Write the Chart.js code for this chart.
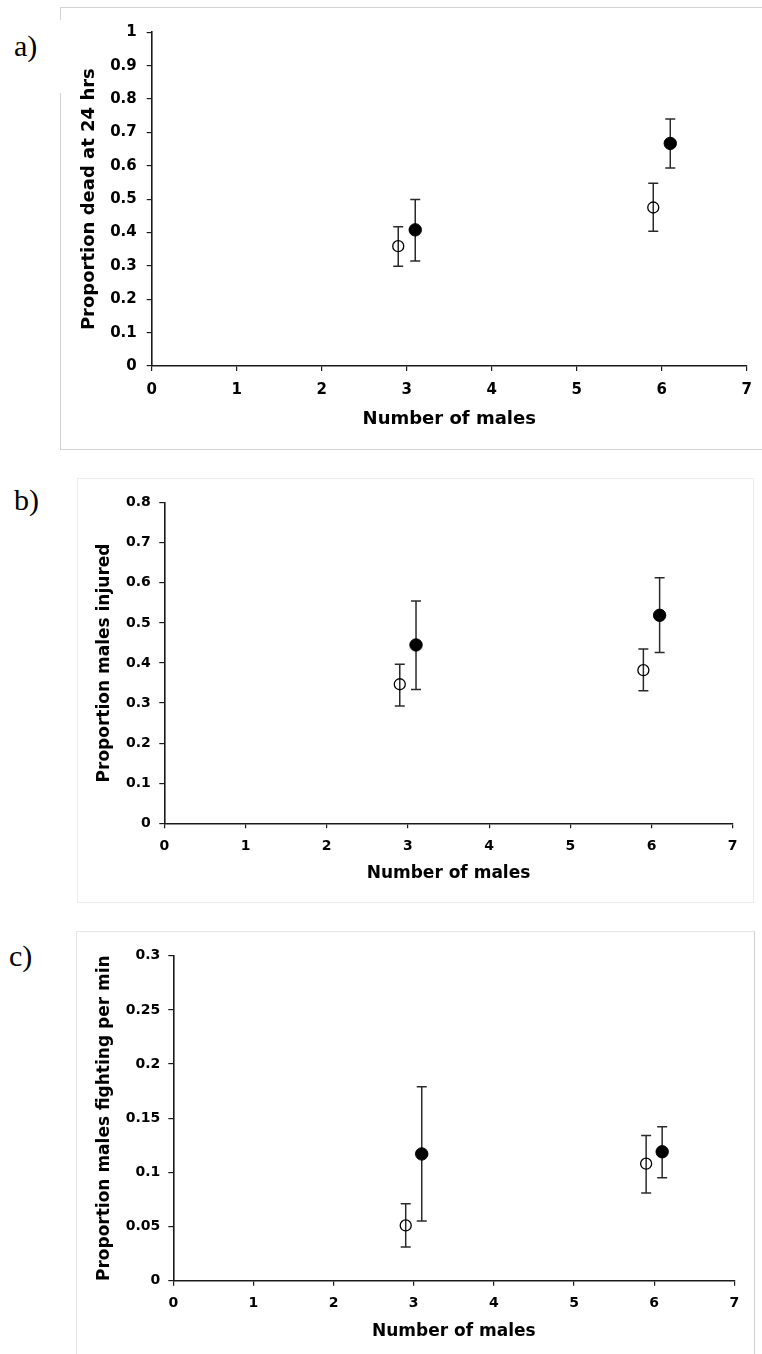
<!DOCTYPE html>
<html>
<head>
<meta charset="utf-8">
<script src="https://cdn.jsdelivr.net/npm/chart.js@4.4.0/dist/chart.umd.min.js"></script>
<style>
  html, body { margin: 0; padding: 0; background: #fff; }
  body { width: 762px; height: 1354px; position: relative; overflow: hidden; }
  .frame { position: absolute; box-sizing: border-box; }
  .lbl { position: absolute; font-family: "Liberation Serif", "Times New Roman", serif; font-size: 30px; line-height: 30px; color: #000; }
  canvas { position: absolute; left: 0; }
</style>
</head>
<body>

<div class="frame" style="left:60px; top:7px; width:760px; height:443px; border:1px solid #d2d2d2;"></div>
<div class="frame" style="left:77px; top:478px; width:677px; height:425px; border:1px solid #ececec;"></div>
<div class="frame" style="left:76px; top:931px; width:679px; height:500px; border:1px solid #e6e6e6; border-right-color:#cfcfcf;"></div>

<!-- white patch where the a) label cuts the frame -->
<div class="lbl" style="left:0; top:20px; width:66px; height:73px; background:#fff;"></div>
<div class="lbl" style="left:14px; top:31px;">a)</div>
<div class="lbl" style="left:14px; top:485px;">b)</div>
<div class="lbl" style="left:9px; top:941px;">c)</div>

<canvas id="chartA" width="762" height="450" style="top:0px"></canvas>
<canvas id="chartB" width="762" height="460" style="top:450px"></canvas>
<canvas id="chartC" width="762" height="444" style="top:910px"></canvas>

<script>
//? x positions (number of males, groups nudged either side)
const xOpen = [2.9, 5.9]
const xFilled = [3.1, 6.1]
const xTicks = [0, 1, 2, 3, 4, 5, 6, 7]

//? a) proportion dead at 24 hrs
const deadOpen = [0.359, 0.475]
const deadOpenLo = [0.299, 0.404]
const deadOpenHi = [0.417, 0.548]
const deadFilled = [0.408, 0.667]
const deadFilledLo = [0.315, 0.593]
const deadFilledHi = [0.499, 0.740]
const yTicksA = [0, 0.1, 0.2, 0.3, 0.4, 0.5, 0.6, 0.7, 0.8, 0.9, 1]

//? b) proportion males injured
const injOpen = [0.347, 0.382]
const injOpenLo = [0.293, 0.331]
const injOpenHi = [0.397, 0.435]
const injFilled = [0.445, 0.519]
const injFilledLo = [0.334, 0.426]
const injFilledHi = [0.555, 0.613]
const yTicksB = [0, 0.1, 0.2, 0.3, 0.4, 0.5, 0.6, 0.7, 0.8]

//? c) proportion males fighting per min
const fightOpen = [0.051, 0.108]
const fightOpenLo = [0.031, 0.081]
const fightOpenHi = [0.071, 0.134]
const fightFilled = [0.117, 0.119]
const fightFilledLo = [0.055, 0.095]
const fightFilledHi = [0.179, 0.142]
const yTicksC = [0, 0.05, 0.1, 0.15, 0.2, 0.25, 0.3]

const tickFont = "'DejaVu Sans', Verdana, sans-serif"

// error bars: pairs of points with a gap between, caps are 'line' point markers
function errorData(xs, lo, hi) {
  let out = []
  for (let i = 0; i < xs.length; i++) {
    out.push({ x: xs[i], y: lo[i] })
    out.push({ x: xs[i], y: hi[i] })
    out.push({ x: xs[i], y: null })
  }
  return out
}

function points(xs, ys) {
  return xs.map((x, i) => ({ x: x, y: ys[i] }))
}

function makeChart(id, s) {
  let ctx = document.getElementById(id).getContext('2d')
  return new Chart(ctx, {
    type: 'scatter',
    data: {
      datasets: [
        {
          data: points(xFilled, s.filled),
          pointRadius: 6.2,
          pointBackgroundColor: '#000',
          pointBorderColor: '#000',
          pointBorderWidth: 1,
        },
        {
          data: points(xOpen, s.open),
          pointRadius: 5.5,
          pointBackgroundColor: 'rgba(255,255,255,0)',
          pointBorderColor: '#000',
          pointBorderWidth: 1.3,
        },
        {
          data: errorData(xOpen.concat(xFilled), s.openLo.concat(s.filledLo), s.openHi.concat(s.filledHi)),
          showLine: true,
          spanGaps: false,
          borderColor: '#2a2a2a',
          borderWidth: 1.5,
          pointStyle: 'line',
          pointRadius: 5,
          pointBorderColor: '#2a2a2a',
          pointBorderWidth: 1.5,
        },
      ],
    },
    options: {
      responsive: false,
      animation: false,
      events: [],
      layout: { padding: { top: s.top, right: s.right, left: 0, bottom: 0 } },
      plugins: { legend: { display: false }, tooltip: { enabled: false } },
      scales: {
        x: {
          type: 'linear',
          min: 0,
          max: 7,
          afterBuildTicks: (scale) => { scale.ticks = xTicks.map(v => ({ value: v })) },
          afterFit: (scale) => { scale.height = s.xHeight },
          border: { display: true, color: '#1a1a1a', width: 1.6 },
          grid: { drawOnChartArea: false, drawTicks: true, tickLength: 5, color: '#1a1a1a', lineWidth: 1.2 },
          ticks: { color: '#000', padding: s.xPad, font: { family: tickFont, size: s.tickSize, weight: 'bold' } },
          title: {
            display: true,
            text: 'Number of males',
            color: '#000',
            padding: { top: 0, bottom: s.xTitlePad },
            font: { family: tickFont, size: s.titleSize, weight: 'bold' },
          },
        },
        y: {
          type: 'linear',
          min: 0,
          max: s.yTicks[s.yTicks.length - 1],
          afterBuildTicks: (scale) => { scale.ticks = s.yTicks.map(v => ({ value: v })) },
          afterFit: (scale) => { scale.width = s.yWidth },
          border: { display: true, color: '#1a1a1a', width: 1.6 },
          grid: { drawOnChartArea: false, drawTicks: true, tickLength: 5, color: '#1a1a1a', lineWidth: 1.2 },
          ticks: {
            color: '#000',
            padding: s.yPad,
            font: { family: tickFont, size: s.tickSize, weight: 'bold' },
            callback: (v) => String(Math.round(v * 100) / 100),
          },
          title: {
            display: true,
            text: s.yTitle,
            color: '#000',
            padding: { top: s.yTitlePad, bottom: 0 },
            font: { family: tickFont, size: s.titleSize, weight: 'bold' },
          },
        },
      },
    },
  })
}

makeChart('chartA', {
  open: deadOpen, openLo: deadOpenLo, openHi: deadOpenHi,
  filled: deadFilled, filledLo: deadFilledLo, filledHi: deadFilledHi,
  yTicks: yTicksA, yTitle: 'Proportion dead at 24 hrs',
  top: 32.3, right: 13.3, yWidth: 151.7, xHeight: 84,
  tickSize: 15, titleSize: 18, yPad: 10, xPad: 10,
  yTitlePad: 78.2, xTitlePad: 19.9,
})

makeChart('chartB', {
  open: injOpen, openLo: injOpenLo, openHi: injOpenHi,
  filled: injFilled, filledLo: injFilledLo, filledHi: injFilledHi,
  yTicks: yTicksB, yTitle: 'Proportion males injured',
  top: 52.7, right: 29.3, yWidth: 164.3, xHeight: 86.7,
  tickSize: 14, titleSize: 17, yPad: 8.5, xPad: 10,
  yTitlePad: 94.8, xTitlePad: 25.8,
})

makeChart('chartC', {
  open: fightOpen, openLo: fightOpenLo, openHi: fightOpenHi,
  filled: fightFilled, filledLo: fightFilledLo, filledHi: fightFilledHi,
  yTicks: yTicksC, yTitle: 'Proportion males fighting per min',
  top: 45.7, right: 27.7, yWidth: 173.3, xHeight: 73.3,
  tickSize: 14, titleSize: 17, yPad: 8, xPad: 9,
  yTitlePad: 94.8, xTitlePad: 12.1,
})
</script>
</body>
</html>
